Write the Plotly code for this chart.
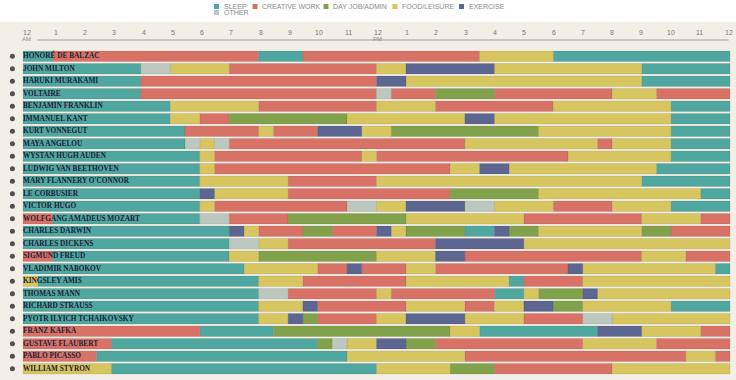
import plotly.graph_objects as go

# ---------------- data ----------------
names = [
    "HONORÉ DE BALZAC", "JOHN MILTON", "HARUKI MURAKAMI", "VOLTAIRE",
    "BENJAMIN FRANKLIN", "IMMANUEL KANT", "KURT VONNEGUT", "MAYA ANGELOU",
    "WYSTAN HUGH AUDEN", "LUDWIG VAN BEETHOVEN", "MARY FLANNERY O'CONNOR",
    "LE CORBUSIER", "VICTOR HUGO", "WOLFGANG AMADEUS MOZART", "CHARLES DARWIN",
    "CHARLES DICKENS", "SIGMUND FREUD", "VLADIMIR NABOKOV", "KINGSLEY AMIS",
    "THOMAS MANN", "RICHARD STRAUSS", "PYOTR ILYICH TCHAIKOVSKY", "FRANZ KAFKA",
    "GUSTAVE FLAUBERT", "PABLO PICASSO", "WILLIAM STYRON",
]

activities = ["SLEEP", "CREATIVE WORK", "DAY JOB/ADMIN", "FOOD/LEISURE", "EXERCISE", "OTHER"]
activity_codes = ["S", "C", "D", "F", "E", "O"]
activity_colors = ["#4fa7a0", "#d97266", "#82a14b", "#d7c55f", "#5d6690", "#bbc7bf"]

# each schedule: list of (activity code, end hour); start = previous end (first starts at 0)
schedules = [
    [("S", 1), ("C", 8), ("S", 9.5), ("C", 15.5), ("F", 18), ("S", 24)],
    [("S", 4), ("O", 5), ("F", 7), ("C", 12), ("F", 13), ("E", 16), ("F", 21), ("S", 24)],
    [("S", 4), ("C", 12), ("E", 13), ("F", 21), ("S", 24)],
    [("S", 4), ("C", 12), ("O", 12.5), ("C", 14), ("D", 16), ("C", 20), ("F", 21.5), ("C", 24)],
    [("S", 5), ("F", 8), ("C", 12), ("F", 14), ("C", 18), ("F", 22), ("S", 24)],
    [("S", 5), ("F", 6), ("C", 7), ("D", 11), ("F", 15), ("E", 16), ("F", 22), ("S", 24)],
    [("S", 5.5), ("C", 8), ("F", 8.5), ("C", 10), ("E", 11.5), ("F", 12.5), ("D", 17.5), ("F", 22), ("S", 24)],
    [("S", 5.5), ("O", 6), ("F", 6.5), ("O", 7), ("C", 15), ("F", 19.5), ("C", 20), ("F", 22), ("S", 24)],
    [("S", 6), ("F", 6.5), ("C", 11.5), ("F", 12), ("C", 18.5), ("F", 22), ("S", 24)],
    [("S", 6), ("F", 6.5), ("C", 14.5), ("F", 15.5), ("E", 16.5), ("F", 21.5), ("S", 24)],
    [("S", 6), ("F", 9), ("C", 12), ("F", 21), ("S", 24)],
    [("S", 6), ("E", 6.5), ("F", 9), ("C", 14.5), ("D", 17.5), ("F", 23), ("S", 24)],
    [("S", 6), ("F", 6.5), ("C", 11), ("O", 12), ("F", 13), ("E", 15), ("O", 16), ("F", 18), ("C", 20), ("F", 22), ("S", 24)],
    [("C", 1), ("S", 6), ("O", 7), ("C", 9), ("D", 13), ("F", 17), ("C", 21), ("F", 23), ("C", 24)],
    [("S", 7), ("E", 7.5), ("F", 8), ("C", 9.5), ("D", 10.5), ("C", 12), ("E", 12.5), ("F", 13), ("D", 15), ("S", 16), ("E", 16.5), ("D", 17.5), ("F", 21), ("D", 22), ("C", 24)],
    [("S", 7), ("O", 8), ("F", 9), ("C", 14), ("E", 17), ("F", 24)],
    [("C", 1), ("S", 7), ("F", 8), ("D", 12), ("F", 14), ("E", 15), ("C", 21), ("F", 22.5), ("C", 24)],
    [("S", 7.5), ("F", 10), ("C", 11), ("E", 11.5), ("C", 13), ("F", 14), ("C", 18.5), ("E", 19), ("F", 23.5), ("S", 24)],
    [("F", 0.5), ("S", 8), ("F", 9.5), ("C", 13), ("F", 16.5), ("S", 17), ("C", 19), ("F", 24)],
    [("S", 8), ("O", 9), ("C", 12), ("F", 12.5), ("C", 16), ("S", 17), ("F", 17.5), ("D", 19), ("E", 19.5), ("F", 24)],
    [("S", 8), ("F", 9.5), ("E", 10), ("C", 13), ("F", 15), ("C", 16), ("F", 17), ("E", 18), ("D", 19), ("F", 22), ("S", 24)],
    [("S", 8), ("F", 9), ("E", 9.5), ("D", 10), ("C", 12), ("F", 13), ("E", 15), ("F", 17), ("C", 19), ("O", 20), ("F", 24)],
    [("C", 6), ("S", 8.5), ("D", 14.5), ("F", 15.5), ("S", 19.5), ("E", 21), ("F", 23), ("C", 24)],
    [("C", 3), ("S", 10), ("D", 10.5), ("O", 11), ("F", 12), ("E", 13), ("D", 14), ("C", 19), ("F", 21.5), ("C", 24)],
    [("C", 2.5), ("S", 11), ("F", 15), ("C", 22.5), ("F", 23.5), ("C", 24)],
    [("F", 3), ("S", 12), ("F", 14.5), ("D", 16), ("C", 20), ("F", 24)],
]

hour_ticks = list(range(0, 25))
hour_labels = ["12", "1", "2", "3", "4", "5", "6", "7", "8", "9", "10", "11",
               "12", "1", "2", "3", "4", "5", "6", "7", "8", "9", "10", "11", "12"]
meridiem = {0: "AM", 12: "PM"}

# ---------------- layout geometry ----------------
W, H = 736, 380
MT, MB = 50, 5
PH = H - MT - MB
PX_PER_HOUR = 29.46
X0_PX = 23  # pixel position of midnight
X_RANGE = [-X0_PX / PX_PER_HOUR, (W - X0_PX) / PX_PER_HOUR]
BEIGE = "#f3efe6"


def px_x(px):
    return px / W


def px_y(py):
    return (H - MB - py) / PH


fig = go.Figure()

# bars
for act, code, col in zip(activities, activity_codes, activity_colors):
    ys, bases, lens = [], [], []
    for name, sched in zip(names, schedules):
        start = 0
        for c, end in sched:
            if c == code:
                ys.append(name)
                bases.append(start)
                lens.append(end - start)
            start = end
    fig.add_trace(go.Bar(
        y=ys, x=lens, base=bases, orientation="h", name=act,
        marker=dict(color=col, line=dict(width=0.6, color="rgba(0,0,0,0.13)")),
        showlegend=False, hoverinfo="skip",
    ))

# names inside bars
fig.add_trace(go.Scatter(
    y=names, x=[0] * len(names), mode="text", text=names,
    textposition="middle right",
    textfont=dict(family="Liberation Serif", size=7.3, color="#1d2236", weight="bold"),
    showlegend=False, hoverinfo="skip",
))

# head icons at the far left
fig.add_trace(go.Scatter(
    y=names, x=[-0.36] * len(names), mode="markers",
    marker=dict(symbol="circle", size=5, color="#505050"),
    showlegend=False, hoverinfo="skip",
))

shapes = [
    # beige page background below the white strip
    dict(type="rect", xref="paper", yref="paper", x0=-0.05, x1=1.05,
         y0=-0.1, y1=px_y(22), fillcolor=BEIGE, line=dict(width=0), layer="below"),
    # time axis line
    dict(type="line", xref="x", yref="paper", x0=0.48, x1=23.95,
         y0=px_y(40), y1=px_y(40), line=dict(color="#b9b9b6", width=1.5)),
]

annotations = []
for h, lab in zip(hour_ticks, hour_labels):
    shift = 3.5 - 0.18 * h
    annotations.append(dict(
        x=h, y=px_y(32.5), xref="x", yref="paper", text=lab, showarrow=False,
        xanchor="center", yanchor="middle", xshift=shift,
        font=dict(family="Liberation Sans", size=7, color="#777777"),
    ))
    if h in meridiem:
        annotations.append(dict(
            x=h, y=px_y(39), xref="x", yref="paper", text=meridiem[h], showarrow=False,
            xanchor="center", yanchor="middle", xshift=shift,
            font=dict(family="Liberation Sans", size=6, color="#888888"),
        ))

# custom legend
legend_pos = {
    "SLEEP": (216.5, 6.5), "CREATIVE WORK": (255, 6.5), "DAY JOB/ADMIN": (326, 6.5),
    "FOOD/LEISURE": (395, 6.5), "EXERCISE": (461.5, 6.5), "OTHER": (216.5, 12.5),
}
for act, col in zip(activities, activity_colors):
    cx, cy = legend_pos[act]
    shapes.append(dict(
        type="rect", xref="paper", yref="paper",
        x0=px_x(cx - 2.5), x1=px_x(cx + 2.5), y0=px_y(cy + 2.5), y1=px_y(cy - 2.5),
        fillcolor=col, line=dict(width=0),
    ))
    annotations.append(dict(
        x=px_x(cx + 5), y=px_y(cy), xref="paper", yref="paper", text=act,
        showarrow=False, xanchor="left", yanchor="middle",
        font=dict(family="Liberation Sans", size=7, color="#8a8a8a"),
    ))

fig.update_layout(
    width=W, height=H,
    margin=dict(l=0, r=0, t=MT, b=MB),
    paper_bgcolor="white", plot_bgcolor=BEIGE,
    barmode="overlay", bargap=0.16,
    xaxis=dict(range=X_RANGE, showgrid=False, zeroline=False, showticklabels=False,
               ticks="", showline=False, fixedrange=True),
    yaxis=dict(categoryorder="array", categoryarray=names,
               range=[len(names) - 0.5, -0.5],
               showgrid=False, zeroline=False, showticklabels=False, ticks="",
               showline=False, fixedrange=True),
    shapes=shapes, annotations=annotations,
)

fig.write_html("out.html", config={"displayModeBar": False},
               post_script="document.body.style.margin='0px';")
